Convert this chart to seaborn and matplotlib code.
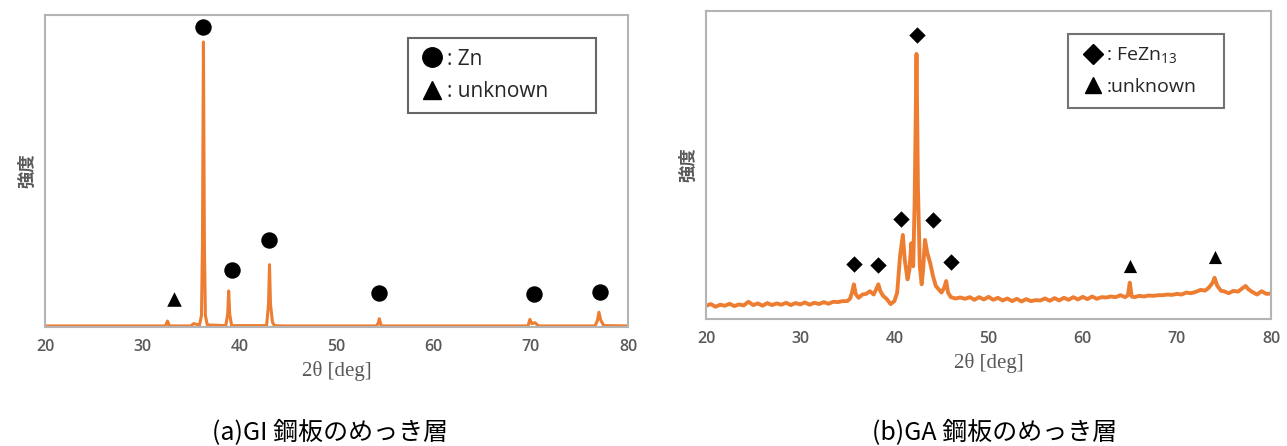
import numpy as np
import pandas as pd
import matplotlib.pyplot as plt
import seaborn as sns
from matplotlib.lines import Line2D

# --- データ (a) GI 鋼板 ---
gi_deg = [20, 32.4, 32.6, 32.8, 35.0, 35.3, 35.9, 36.1, 36.2, 36.3, 36.4, 36.5, 36.7,
          38.6, 38.8, 38.9, 39.0, 39.2, 42.8, 43.0, 43.1, 43.2, 43.4, 43.6, 44.5,
          54.1, 54.3, 54.4, 54.6, 69.7, 69.9, 70.1, 70.4, 70.6, 70.8, 76.6, 76.85,
          77.0, 77.2, 77.5, 80]
gi_int = [30, 30, 180, 30, 30, 100, 60, 350, 2500, 8700, 2500, 350, 60,
          40, 400, 1100, 400, 40, 40, 700, 1900, 700, 150, 40, 30,
          30, 120, 250, 30, 30, 230, 100, 130, 80, 30, 30, 200,
          450, 200, 40, 30]
gi_zn_deg = [36.3, 39.2, 43.0, 54.4, 70.3, 77.1]
gi_zn_int = [9150, 1750, 2650, 1050, 1000, 1080]
gi_unk_deg = [33.3]
gi_unk_int = [850]

# --- データ (b) GA 鋼板 ---
ga_deg = [20, 20.5, 21, 21.5, 22, 22.5, 23, 23.5, 24, 24.5, 25, 25.5, 26, 26.5, 27,
          27.5, 28, 28.5, 29, 29.5, 30, 30.5, 31, 31.5, 32, 32.5, 33, 33.5, 34, 34.5,
          35, 35.3, 35.5, 35.7, 35.9, 36.2, 36.6, 37, 37.4, 37.8, 38.1, 38.3, 38.5,
          38.8, 39.2, 39.6, 40.0, 40.3, 40.6, 40.9, 41.1, 41.4, 41.6, 41.8, 42.0,
          42.15, 42.35, 42.5, 42.7, 42.9, 43.05, 43.25, 43.5, 43.8, 44.1, 44.4, 44.7,
          45.0, 45.3, 45.5, 45.7, 46.0, 46.5, 47, 47.5, 48, 48.5, 49, 49.5, 50, 50.5,
          51, 51.5, 52, 52.5, 53, 53.5, 54, 54.5, 55, 55.5, 56, 56.5, 57, 57.5, 58,
          58.5, 59, 59.5, 60, 60.5, 61, 61.5, 62, 62.5, 63, 63.5, 64, 64.5, 64.8,
          65.0, 65.2, 65.5, 66, 66.5, 67, 67.5, 68, 68.5, 69, 69.5, 70, 70.5, 71,
          71.5, 72, 72.5, 73, 73.4, 73.8, 74.0, 74.3, 74.7, 75, 75.5, 76, 76.5, 77,
          77.3, 77.6, 78, 78.5, 79, 79.5, 80]
ga_int = [400, 450, 370, 430, 400, 460, 390, 440, 410, 520, 420, 470, 400, 480, 420,
          470, 430, 490, 420, 480, 440, 500, 430, 490, 450, 510, 460, 520, 510, 540,
          540, 620, 800, 1050, 750, 640, 740, 760, 840, 740, 920, 1050, 850,
          700, 600, 450, 540, 800, 1900, 2550, 1800, 1200, 1500, 2300, 1600,
          3500, 8050, 4000, 1600, 1050, 1500, 2400, 2000, 1700, 1300, 1000, 900,
          800, 950, 1150, 800, 660, 620, 650, 610, 660, 580, 660, 590, 670, 580,
          640, 560, 620, 540, 610, 530, 600, 540, 570, 560, 620, 550, 630, 560, 640,
          580, 660, 590, 670, 600, 680, 610, 660, 650, 680, 660, 720, 660, 720,
          1100, 680, 660, 700, 680, 710, 700, 720, 720, 740, 730, 760, 740, 800,
          780, 820, 880, 860, 950, 1100, 1250, 1000, 850, 840, 780, 850, 830, 940,
          1000, 900, 820, 740, 840, 760, 770]
ga_fe_deg = [35.7, 38.3, 40.7, 42.4, 44.1, 46.0]
ga_fe_int = [1670, 1650, 3030, 8620, 3000, 1730]
ga_unk_deg = [65.0, 74.1]
ga_unk_int = [1620, 1870]

gi_df = pd.DataFrame({'deg': gi_deg, 'int': gi_int})
ga_df = pd.DataFrame({'deg': ga_deg, 'int': ga_int})

# --- スタイル ---
sns.set_theme(style='white')
plt.rcParams['font.family'] = ['Open Sans', 'Noto Sans CJK JP', 'DejaVu Sans']
ORANGE = '#ED7D31'
GRAY = '#595959'
FRAME = '#b4b4b4'

fig = plt.figure(figsize=(12.87, 4.46), dpi=100)
ax_a = fig.add_axes([0.035, 0.267, 0.453, 0.699])
ax_b = fig.add_axes([0.5486, 0.285, 0.439, 0.69])


def style_axes(ax, ytop):
    ax.set_xlim(20, 80)
    ax.set_ylim(0, ytop)
    ax.set_xticks(range(20, 81, 10))
    ax.set_yticks([])
    ax.tick_params(axis='x', colors=GRAY, labelsize=11.5, length=0, pad=9)
    for lbl in ax.get_xticklabels():
        lbl.set_fontweight('semibold')
    for s in ax.spines.values():
        s.set_color(FRAME)
        s.set_linewidth(1.5)
    ax.set_xlabel('2θ [deg]', family='Liberation Serif', fontsize=15, color=GRAY, labelpad=4)
    ax.set_ylabel('強度', family=['Noto Sans CJK JP'], fontsize=12.5, color=GRAY,
                  fontweight='bold', labelpad=6)


# (a)
sns.lineplot(data=gi_df, x='deg', y='int', ax=ax_a, color=ORANGE, linewidth=2.2)
sns.scatterplot(x=gi_zn_deg, y=gi_zn_int, ax=ax_a, marker='o', color='black', s=140, linewidth=0)
sns.scatterplot(x=gi_unk_deg, y=gi_unk_int, ax=ax_a, marker='^', color='black', s=110, linewidth=0)
style_axes(ax_a, 9520)
h_a = [Line2D([], [], marker='o', color='black', ls='', markersize=14),
       Line2D([], [], marker='^', color='black', ls='', markersize=13)]
leg_a = ax_a.legend(h_a, [': Zn', ': unknown'], loc='upper left',
                    bbox_to_anchor=(0.623, 0.66, 0.322, 0.266), mode='expand',
                    fontsize=15, frameon=True, fancybox=False, labelspacing=0.55,
                    borderpad=0.5, handletextpad=0.05, handlelength=1.3, borderaxespad=0)
leg_a.get_frame().set_edgecolor('#404040')
leg_a.get_frame().set_linewidth(1.5)

# (b)
sns.lineplot(data=ga_df, x='deg', y='int', ax=ax_b, color=ORANGE, linewidth=2.8)
sns.scatterplot(x=ga_fe_deg, y=ga_fe_int, ax=ax_b, marker='D', color='black', s=70, linewidth=0)
sns.scatterplot(x=ga_unk_deg, y=ga_unk_int, ax=ax_b, marker='^', color='black', s=90, linewidth=0)
style_axes(ax_b, 9350)
h_b = [Line2D([], [], marker='D', color='black', ls='', markersize=10),
       Line2D([], [], marker='^', color='black', ls='', markersize=12)]
leg_b = ax_b.legend(h_b, [': FeZn$_{\\mathregular{13}}$', ':unknown'], loc='upper left',
                    bbox_to_anchor=(0.641, 0.659, 0.276, 0.266), mode='expand',
                    fontsize=14, frameon=True, fancybox=False, labelspacing=0.6,
                    borderpad=0.6, handletextpad=0.05, handlelength=1.3, borderaxespad=0)
leg_b.get_frame().set_edgecolor('#505050')
leg_b.get_frame().set_linewidth(1.5)

# キャプション
fig.text(330 / 1287, 1 - 433 / 446, '(a)GI 鋼板のめっき層', ha='center', va='center',
         family=['Noto Sans CJK JP'], fontsize=18, color='black')
fig.text(995 / 1287, 1 - 433 / 446, '(b)GA 鋼板のめっき層', ha='center', va='center',
         family=['Noto Sans CJK JP'], fontsize=18, color='black')

fig.savefig('out.png', dpi=100)
